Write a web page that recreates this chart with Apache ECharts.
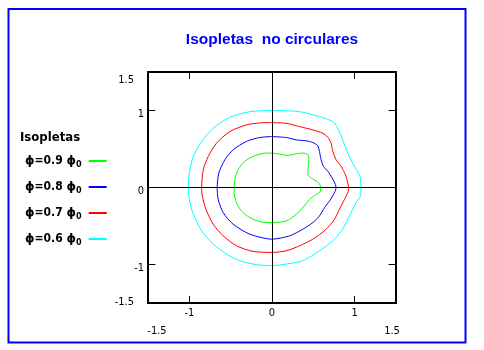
<!DOCTYPE html>
<html><head><meta charset="utf-8">
<script src="https://cdn.jsdelivr.net/npm/echarts@6/dist/echarts.min.js"></script>
<style>html,body{margin:0;padding:0;background:#fff}#c{width:484px;height:350px}</style>
</head><body><div id="c"></div>
<script>
// ---- data ----
var titleText = 'Isopletas  no circulares';
var legendTitle = 'Isopletas';
var seriesNames = ['0.9', '0.8', '0.7', '0.6'];
var seriesColors = ['#00ff00', '#0000ff', '#ff0000', '#00ffff'];
var axisMin = -1.5, axisMax = 1.5;
var mainTicks = [-1, 0, 1];
var innerTicks = [-1, 1];
var limitTicks = [-1.5, 1.5];

var phi09 = [[0,0.447],[0.092,0.434],[0.193,0.417],[0.293,0.439],[0.373,0.447],[0.434,0.426],[0.446,0.361],[0.438,0.275],[0.434,0.168],[0.474,0.125],[0.554,0.069],[0.586,0.017],[0.586,-0.047],[0.534,-0.090],[0.454,-0.155],[0.373,-0.262],[0.293,-0.348],[0.173,-0.434],[0,-0.456],[-0.149,-0.443],[-0.269,-0.391],[-0.369,-0.305],[-0.430,-0.198],[-0.458,-0.069],[-0.458,0],[-0.450,0.103],[-0.410,0.232],[-0.329,0.340],[-0.229,0.404],[-0.108,0.443],[0,0.447]];
var phi08 = [[0,0.662],[0.173,0.649],[0.293,0.619],[0.414,0.606],[0.494,0.585],[0.554,0.542],[0.574,0.469],[0.594,0.361],[0.622,0.275],[0.675,0.211],[0.727,0.125],[0.767,0.039],[0.775,0],[0.755,-0.069],[0.695,-0.176],[0.635,-0.262],[0.574,-0.370],[0.494,-0.456],[0.373,-0.542],[0.213,-0.628],[0,-0.671],[-0.269,-0.606],[-0.470,-0.477],[-0.590,-0.327],[-0.651,-0.155],[-0.663,0],[-0.643,0.189],[-0.570,0.361],[-0.470,0.490],[-0.309,0.598],[-0.149,0.649],[0,0.662]];
var phi07 = [[0,0.843],[0.173,0.834],[0.333,0.791],[0.494,0.748],[0.614,0.705],[0.675,0.654],[0.715,0.576],[0.735,0.469],[0.775,0.361],[0.835,0.275],[0.888,0.168],[0.916,0.060],[0.928,0],[0.916,-0.069],[0.876,-0.155],[0.815,-0.284],[0.755,-0.413],[0.655,-0.542],[0.494,-0.671],[0.333,-0.757],[0.173,-0.822],[0,-0.843],[-0.229,-0.830],[-0.430,-0.757],[-0.590,-0.628],[-0.711,-0.477],[-0.799,-0.284],[-0.843,-0.112],[-0.851,0],[-0.831,0.232],[-0.771,0.404],[-0.671,0.576],[-0.510,0.727],[-0.309,0.813],[-0.149,0.839],[0,0.843]];
var phi06 = [[0,1.002],[0.333,0.985],[0.574,0.920],[0.735,0.856],[0.795,0.770],[0.855,0.619],[0.916,0.447],[0.996,0.275],[1.064,0.146],[1.076,0],[1.076,-0.09],[1.016,-0.198],[0.936,-0.370],[0.855,-0.542],[0.735,-0.692],[0.574,-0.822],[0.373,-0.951],[0.173,-0.994],[0,-1.015],[-0.189,-1.002],[-0.390,-0.951],[-0.550,-0.865],[-0.711,-0.735],[-0.851,-0.563],[-0.952,-0.348],[-1.0,-0.155],[-1.012,0],[-1.0,0.189],[-0.952,0.404],[-0.851,0.598],[-0.711,0.770],[-0.510,0.912],[-0.269,0.985],[0,1.002]];
var curves = [phi09, phi08, phi07, phi06];

// ---- chart ----
var NARROW = "'Liberation Sans Narrow','DejaVu Sans Condensed','Arial Narrow',sans-serif";
var TICK_LEN = 0.09; // tick mark length in axis units (about 7 px)
var chart = echarts.init(document.getElementById('c'), null, {renderer: 'canvas'});

function ax(pos, opt) {
  return Object.assign({
    type: 'value', min: axisMin, max: axisMax, position: pos,
    axisLine: {show: false, onZero: false}, splitLine: {show: false},
    axisTick: {show: false}, axisLabel: {show: false}
  }, opt);
}
function richLabel(margin, styles) {
  return {
    show: true, margin: margin, color: '#000', fontSize: 11, fontFamily: NARROW,
    formatter: function (v) { return '{' + (v < 0 ? 'lo' : (v > 0 ? 'hi' : 'mid')) + '|' + v + '}'; },
    rich: styles
  };
}
function rs(pad) { return {fontSize: 11, fontFamily: NARROW, color: '#000', padding: pad}; }

var series = curves.map(function (pts, i) {
  return {
    type: 'line', name: seriesNames[i], data: pts, showSymbol: false, symbol: 'none',
    smooth: 0.25, lineStyle: {color: seriesColors[i], width: 1}, itemStyle: {color: seriesColors[i]},
    animation: false, silent: true, z: 2
  };
});

// zero axes crossing the frame + inner tick marks on all four sides
var markData = [{xAxis: 0}, {yAxis: 0}];
innerTicks.forEach(function (v) {
  markData.push([{coord: [v, axisMin]}, {coord: [v, axisMin + TICK_LEN]}]);
  markData.push([{coord: [v, axisMax]}, {coord: [v, axisMax - TICK_LEN]}]);
  markData.push([{coord: [axisMin, v]}, {coord: [axisMin + TICK_LEN, v]}]);
  markData.push([{coord: [axisMax, v]}, {coord: [axisMax - TICK_LEN, v]}]);
});
series.push({
  type: 'line', data: [], z: 5, silent: true, animation: false,
  markLine: {
    silent: true, symbol: ['none', 'none'], animation: false, label: {show: false},
    lineStyle: {color: '#000', width: 1, type: 'solid'},
    data: markData
  }
});

var xMain = richLabel(5, {lo: rs([0,0,0,0]), mid: rs([0,0,0,0]), hi: rs([0,0,0,0])});
xMain.customValues = mainTicks;
var xLimit = richLabel(4, {lo: rs([0,0,0,18]), hi: rs([0,8,0,0])});
xLimit.customValues = limitTicks;
var yMain = richLabel(4, {lo: rs([7,0,0,0]), mid: rs([7,0,0,0]), hi: rs([7,0,0,0])});
yMain.customValues = mainTicks;
var yLimit = richLabel(14, {lo: rs([0,0,2,0]), hi: rs([16,0,0,0])});
yLimit.customValues = limitTicks;

chart.setOption({
  backgroundColor: '#fff',
  animation: false,
  title: [
    {text: titleText, left: 267, top: 27, textAlign: 'center',
     textStyle: {color: '#0000ff', fontSize: 15.5, fontWeight: 'bold', fontFamily: 'Liberation Sans, Arial, sans-serif'}},
    {text: legendTitle, left: 20, top: 131, padding: 0,
     textStyle: {color: '#000', fontSize: 13, fontWeight: 'bold', fontFamily: NARROW}}
  ],
  legend: {
    orient: 'vertical', left: 25, top: 153, padding: 0, align: 'right',
    itemWidth: 18, itemHeight: 2, itemGap: 10, icon: 'rect',
    data: seriesNames,
    formatter: function (n) { return '{p|\u03D5}{t|=' + n + ' }{p|\u03D5}{s|0}'; },
    textStyle: {
      color: '#000', padding: [0, 2, 0, -2],
      rich: {
        p: {fontSize: 12, fontWeight: 'bold', fontFamily: 'DejaVu Sans, sans-serif', lineHeight: 15},
        t: {fontSize: 12, fontWeight: 'bold', fontFamily: NARROW, lineHeight: 15},
        s: {fontSize: 9, fontWeight: 'bold', fontFamily: NARROW, padding: [7, 0, 0, 0], lineHeight: 15}
      }
    }
  },
  grid: {left: 148, top: 72, right: 88, bottom: 47, show: true, borderColor: '#000', borderWidth: 2, backgroundColor: 'transparent'},
  xAxis: [
    ax('bottom', {axisLabel: xMain}),
    ax('bottom', {offset: 19, axisLabel: xLimit})
  ],
  yAxis: [
    ax('left', {axisLabel: yMain}),
    ax('left', {axisLabel: yLimit})
  ],
  graphic: [{
    type: 'rect', shape: {x: 8.5, y: 9, width: 457, height: 333.5},
    style: {fill: 'none', stroke: '#0000ff', lineWidth: 2}, silent: true, z: 100
  }],
  series: series
});
</script></body></html>
